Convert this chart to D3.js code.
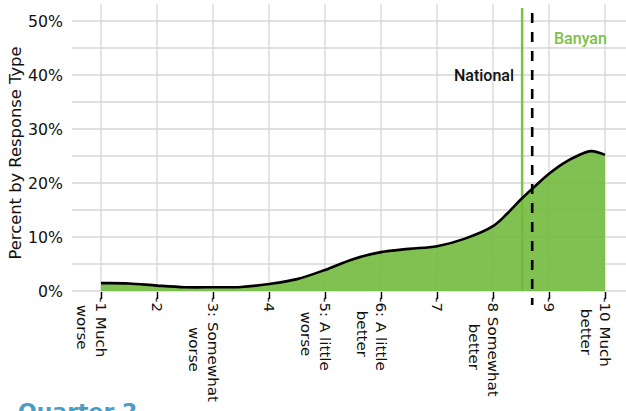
<!DOCTYPE html>
<html>
<head>
<meta charset="utf-8">
<script src="https://cdn.jsdelivr.net/npm/d3@7"></script>
<style>
  html, body { margin: 0; padding: 0; background: #fff; }
  svg { display: block; }
</style>
</head>
<body>
<svg id="chart" width="626" height="411"></svg>
<script>
// ---- data ----
const tickValues = [1, 2, 3, 4, 5, 6, 7, 8, 9, 10];
const tickLabels = [
  ["-1 Much", "worse"], ["-2"], ["-3: Somewhat", "worse"], ["-4"],
  ["-5: A little", "worse"], ["-6: A little", "better"], ["-7"],
  ["-8 Somewhat", "better"], ["-9"], ["-10 Much", "better"]
];
const densityX   = [1, 1.5, 2, 2.5, 3, 3.5, 4, 4.5, 5, 5.5, 6, 6.5, 7, 7.5, 8, 8.25, 8.5, 8.75, 9, 9.25, 9.5, 9.75, 10];
const densityPct = [1.45, 1.4, 1.0, 0.7, 0.7, 0.75, 1.3, 2.2, 3.9, 5.9, 7.2, 7.8, 8.3, 9.7, 12.0, 14.3, 17.0, 19.4, 21.7, 23.6, 25.0, 25.9, 25.2];
const yTicks = [0, 10, 20, 30, 40, 50];
const yGrid = [0, 5, 10, 15, 20, 25, 30, 35, 40, 45, 50];
const banyanMean = 8.52;
const nationalMean = 8.70;

// ---- drawing ----
const svg = d3.select("#chart");
const x = d3.scaleLinear().domain([1, 10]).range([101, 605]);
const y = d3.scaleLinear().domain([0, 50]).range([291, 21]);
const axisFont = "'DejaVu Sans', 'Noto Sans', sans-serif";

function measure(sample, size, weight) {
  const t = svg.append("text").text(sample)
    .attr("font-family", axisFont).attr("font-size", size).attr("font-weight", weight);
  const w = t.node().getComputedTextLength();
  t.remove();
  return w;
}
const tickFs = 14.5;
const tickStretch = 105 / measure("-3: Somewhat", tickFs, 500);   // wide reference face
const yFs = 20 * 35 / measure("50%", 20, 500);
const titleFs = 20 * 213 / measure("Percent by Response Type", 20, 500);

// grid
svg.append("g").selectAll("line").data(yGrid).join("line")
  .attr("x1", 72).attr("x2", 626)
  .attr("y1", d => y(d)).attr("y2", d => y(d))
  .attr("stroke", "#d6d6d6").attr("stroke-width", 1.3);
svg.append("g").selectAll("line").data(tickValues).join("line")
  .attr("x1", d => x(d)).attr("x2", d => x(d))
  .attr("y1", 4).attr("y2", y(0))
  .attr("stroke", "#d6d6d6").attr("stroke-width", 1.3);

// Banyan mean line (under the area)
svg.append("line")
  .attr("x1", x(banyanMean)).attr("x2", x(banyanMean))
  .attr("y1", 8).attr("y2", y(0))
  .attr("stroke", "#7cc142").attr("stroke-width", 2.5);

const pts = densityX.map((d, i) => [d, densityPct[i]]);
const area = d3.area().x(d => x(d[0])).y0(y(0)).y1(d => y(d[1])).curve(d3.curveCatmullRom);
const line = d3.line().x(d => x(d[0])).y(d => y(d[1])).curve(d3.curveCatmullRom);

svg.append("path").attr("d", area(pts))
  .attr("fill", "#70b83a").attr("fill-opacity", 0.88);
svg.append("path").attr("d", line(pts))
  .attr("fill", "none").attr("stroke", "#000").attr("stroke-width", 2.6);

// National mean dashed line
svg.append("line")
  .attr("x1", x(nationalMean)).attr("x2", x(nationalMean))
  .attr("y1", 13).attr("y2", 305)
  .attr("stroke", "#000").attr("stroke-width", 2.6)
  .attr("stroke-dasharray", "10,9");

// x axis ticks
const xAxis = d3.axisBottom(x).tickValues(tickValues).tickSize(7).tickFormat("");
const gx = svg.append("g").attr("transform", `translate(0,${y(0) + 1})`).call(xAxis);
gx.select(".domain").remove();
gx.selectAll(".tick line").attr("stroke", "#000").attr("stroke-width", 1.5);

// x tick labels (rotated 90deg, lines centred on each other)
tickValues.forEach((v, i) => {
  const g = svg.append("g")
    .attr("transform", `translate(${x(v)},297) rotate(90) scale(${tickStretch},1)`);
  const texts = tickLabels[i].map((s, j) =>
    g.append("text").text(s)
      .attr("font-family", axisFont).attr("font-size", tickFs).attr("font-weight", 500)
      .attr("fill", "#111").attr("text-anchor", "middle")
      .attr("dy", (0.36 + j * 1.3) + "em"));
  const w = d3.max(texts, t => t.node().getComputedTextLength());
  texts.forEach(t => t.attr("x", w / 2));
});

// y axis labels
const yAxis = d3.axisLeft(y).tickValues(yTicks).tickSize(0).tickPadding(0).tickFormat(d => d + "%");
const gy = svg.append("g").attr("transform", "translate(63,0)").call(yAxis);
gy.select(".domain").remove();
gy.selectAll("text").attr("font-family", axisFont).attr("font-size", yFs)
  .attr("font-weight", 500).attr("fill", "#111");

svg.append("text")
  .attr("transform", "translate(21,153) rotate(-90)")
  .attr("text-anchor", "middle")
  .attr("font-family", axisFont).attr("font-size", titleFs).attr("font-weight", 500).attr("fill", "#111")
  .text("Percent by Response Type");

// annotations
svg.append("text").attr("x", 554).attr("y", 44)
  .attr("font-family", "Roboto, sans-serif").attr("font-size", 16)
  .attr("font-weight", 500).attr("fill", "#7cc142").text("Banyan");
svg.append("text").attr("x", 514).attr("y", 81).attr("text-anchor", "end")
  .attr("font-family", "Roboto, sans-serif").attr("font-size", 16)
  .attr("font-weight", 500).attr("fill", "#111").text("National");

// cut-off section heading (partly below the picture edge, as in the reference)
svg.append("text").attr("x", 18).attr("y", 419)
  .attr("font-family", axisFont).attr("font-size", 22)
  .attr("font-weight", "bold").attr("fill", "#4a9ec6").text("Quarter 2");
</script>
</body>
</html>
